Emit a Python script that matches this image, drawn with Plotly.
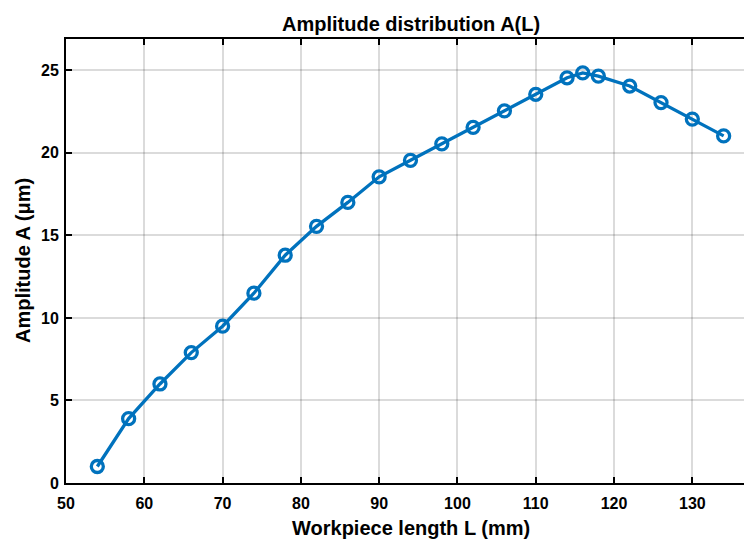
import plotly.graph_objects as go

length_mm = [54, 58, 62, 66, 70, 74, 78, 82, 86, 90, 94, 98, 102, 106, 110, 114, 116, 118, 122, 126, 130, 134]
amplitude_um = [1.0, 3.9, 6.0, 7.9, 9.5, 11.5, 13.8, 15.55, 17.0, 18.55, 19.55, 20.55, 21.55, 22.55, 23.55, 24.55, 24.85, 24.65, 24.05, 23.05, 22.05, 21.03]
x_ticks = [50, 60, 70, 80, 90, 100, 110, 120, 130]
y_ticks = [0, 5, 10, 15, 20, 25]

W, H = 744, 539
L, R, T, B = 66, 0, 39, 56
title_center_px = 411

fig = go.Figure()
fig.add_trace(go.Scatter(
    x=length_mm, y=amplitude_um, mode="lines+markers",
    line=dict(color="#0072BD", width=3.3),
    marker=dict(symbol="circle-open", size=12, color="#0072BD", line=dict(width=3.3, color="#0072BD")),
    showlegend=False,
))

font_family = "Liberation Sans, Arial, sans-serif"
axis_common = dict(
    showline=True, linecolor="black", linewidth=2,
    ticks="inside", ticklen=6, tickwidth=2, tickcolor="black",
    showgrid=True, gridcolor="rgba(0,0,0,0.14)", gridwidth=1.5,
    zeroline=False,
    tickfont=dict(family=font_family, size=16, color="black", weight="bold"),
)
fig.update_xaxes(range=[50, 136.6], tickvals=x_ticks, mirror="ticks", ticklabelstandoff=5, **axis_common)
fig.update_yaxes(range=[0, 26.9], tickvals=y_ticks, mirror=False, ticklabelstandoff=2, **axis_common)

px_frac = (title_center_px - L) / (W - L - R)
fig.add_annotation(text="<b>Amplitude distribution A(L)</b>", xref="paper", yref="paper",
                   x=px_frac, y=1, yshift=15, xanchor="center", yanchor="middle", showarrow=False,
                   font=dict(family=font_family, size=20, color="black"))
fig.add_annotation(text="<b>Workpiece length L (mm)</b>", xref="paper", yref="paper",
                   x=px_frac, y=0, yshift=-45, xanchor="center", yanchor="middle", showarrow=False,
                   font=dict(family=font_family, size=20, color="black"))
fig.add_annotation(text="<b>Amplitude A (μm)</b>", xref="paper", yref="paper",
                   x=0, xshift=-43, y=0.5, xanchor="center", yanchor="middle", textangle=-90, showarrow=False,
                   font=dict(family=font_family, size=20, color="black"))

fig.update_layout(
    width=W, height=H,
    margin=dict(l=L, r=R, t=T, b=B),
    paper_bgcolor="white", plot_bgcolor="white",
)
fig.write_html("out.html", config={"displayModeBar": False},
               post_script="document.body.style.margin='0px';document.body.style.overflow='hidden';")
